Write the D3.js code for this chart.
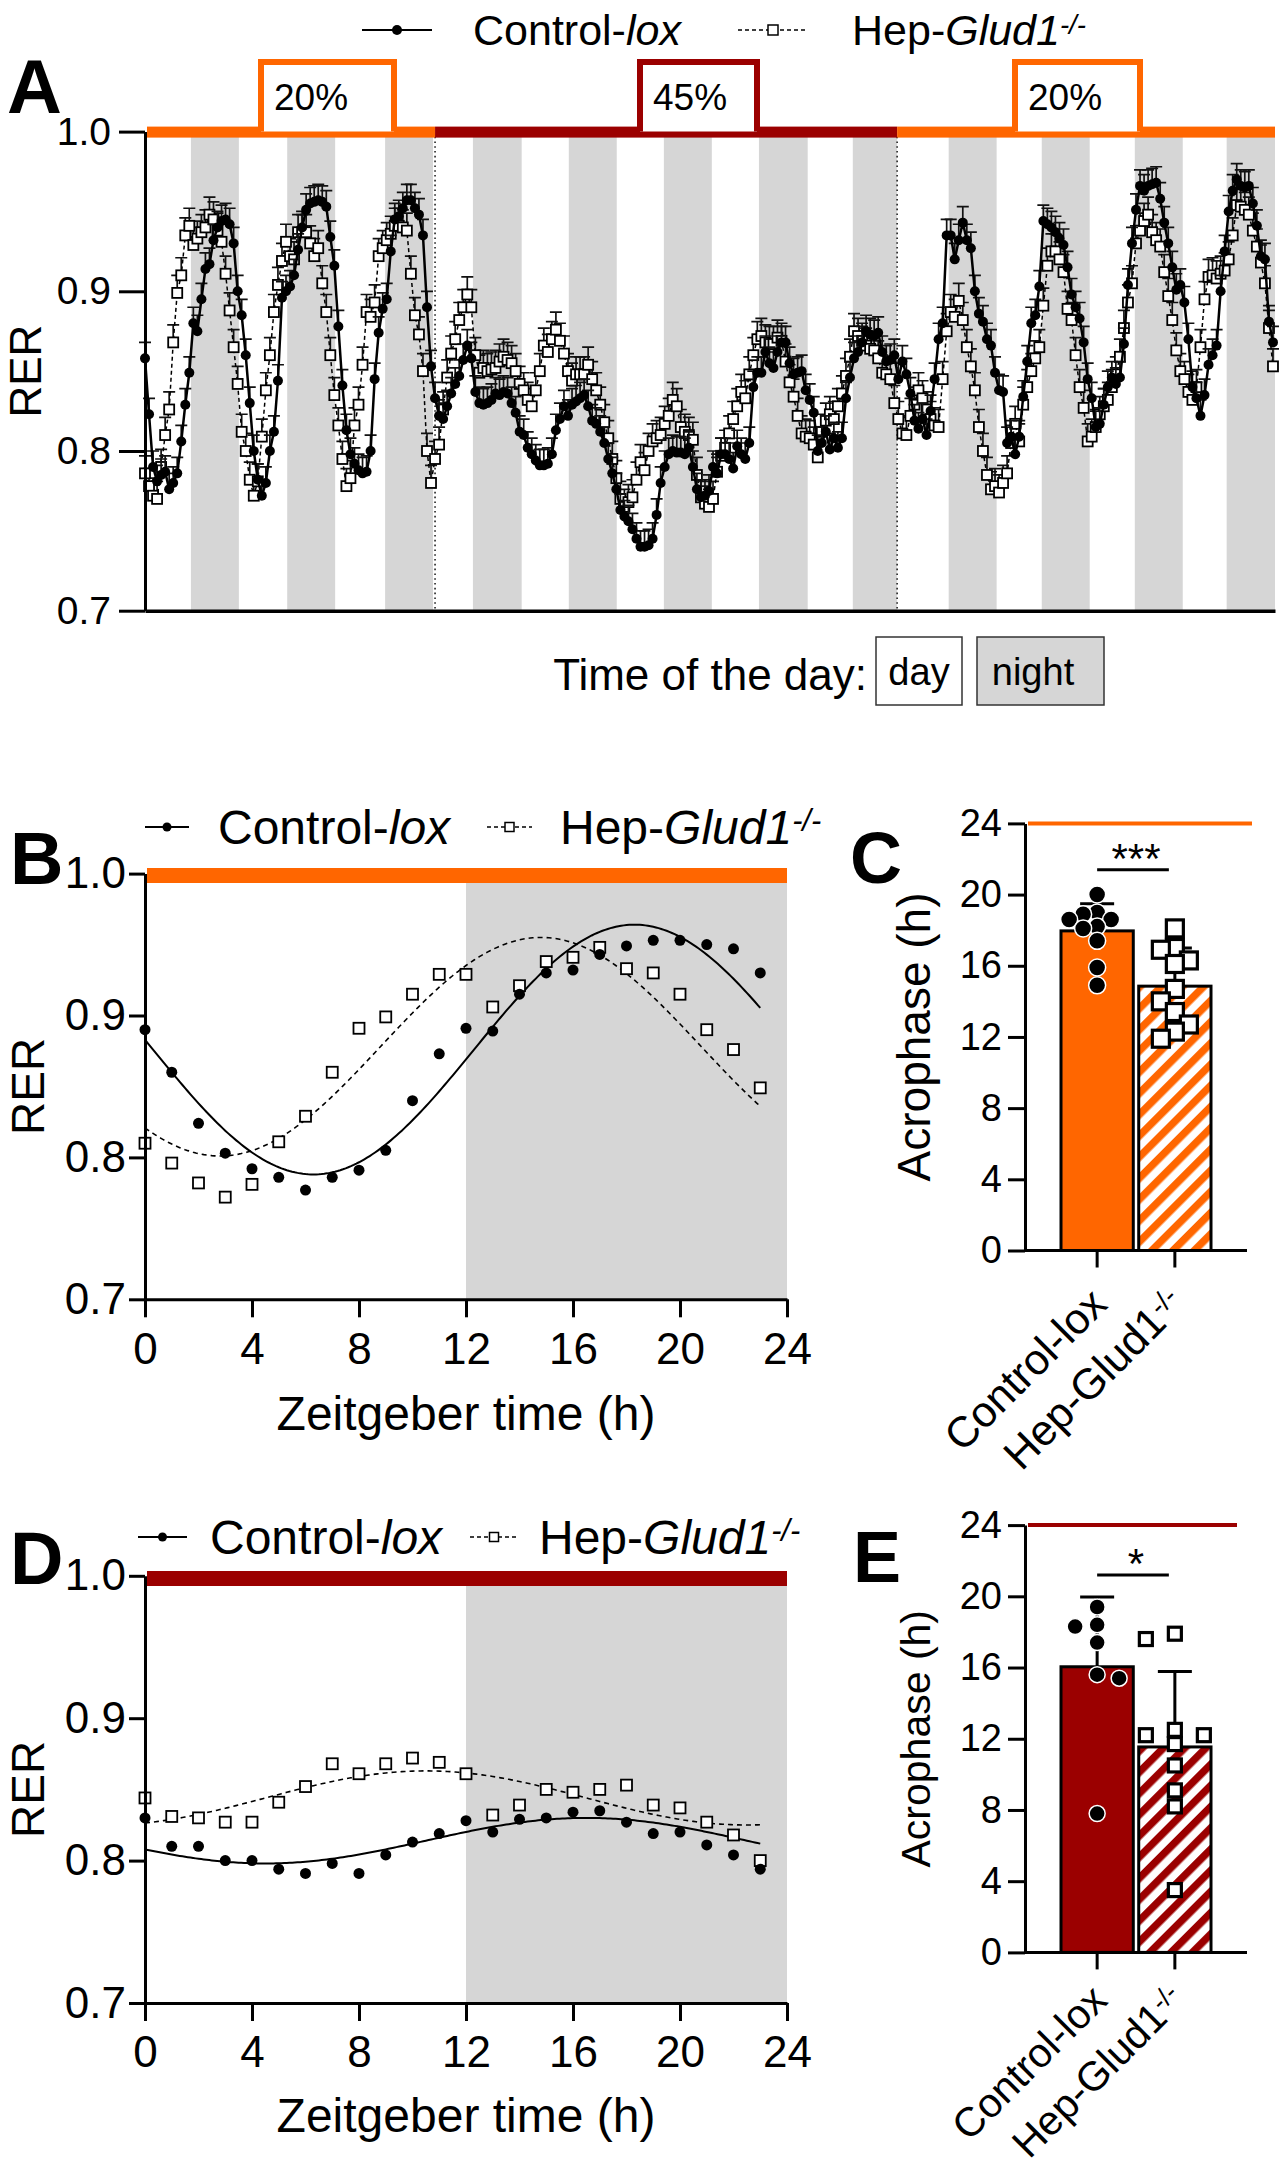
<!DOCTYPE html>
<html><head><meta charset="utf-8">
<script src="https://cdn.jsdelivr.net/npm/d3@7/dist/d3.min.js"></script>
<style>
html,body{margin:0;padding:0;background:#fff;}
svg{display:block;}
</style></head>
<body>
<svg id="chart" width="1280" height="2167" xmlns="http://www.w3.org/2000/svg"></svg>
<script>
// ================= DATA =================
// Panel A: hourly RER, three diet phases (20% / 45% / 20% protein)
const dietLabels = ["20%", "45%", "20%"];
const dietStartH = [0, 72, 186.7];
const dietEndH = [72, 186.7, 280.5];
const nightStartH = [11.4, 35.3, 59.6, 81.4, 105.2, 128.8, 152.4, 175.7, 199.5, 222.6, 245.7, 268.5];
const nightEndH   = [23.3, 47.2, 71.5, 93.5, 117.1, 140.7, 164.5, 186.7, 211.4, 234.5, 257.6, 280.5];

const ctrlA1 = [0.858,0.823,0.790,0.781,0.785,0.787,0.776,0.780,0.786,0.806,0.829,0.849,0.880,0.875,0.895,0.914,0.917,0.932,0.940,0.944,0.945,0.942,0.930,0.900,
  0.885,0.860,0.830,0.800,0.782,0.772,0.780,0.800,0.812,0.844,0.896,0.900,0.903,0.910,0.926,0.940,0.951,0.955,0.956,0.957,0.956,0.953,0.934,0.916,
  0.878,0.841,0.813,0.798,0.792,0.788,0.786,0.787,0.800,0.845,0.874,0.889,0.895,0.925,0.945,0.947,0.952,0.957,0.957,0.952,0.948,0.935,0.890,0.853];
const ctrlA2 = [0.833,0.822,0.820,0.828,0.836,0.842,0.847,0.857,0.866,0.858,0.837,0.830,0.829,0.830,0.832,0.836,0.835,0.837,0.836,0.830,0.824,0.812,0.810,0.802,
  0.798,0.794,0.791,0.791,0.792,0.798,0.813,0.820,0.828,0.822,0.829,0.831,0.833,0.835,0.828,0.819,0.817,0.812,0.805,0.795,0.786,0.776,0.763,0.759,
  0.756,0.751,0.745,0.740,0.740,0.741,0.745,0.760,0.780,0.790,0.798,0.800,0.799,0.799,0.798,0.802,0.790,0.776,0.771,0.772,0.775,0.790,0.786,0.798,
  0.798,0.795,0.789,0.803,0.798,0.795,0.805,0.840,0.849,0.849,0.862,0.855,0.852,0.862,0.868,0.868,0.855,0.848,0.849,0.850,0.838,0.832,0.824,0.800,
  0.805,0.812,0.801,0.808,0.802,0.808,0.833,0.846,0.858,0.862,0.868,0.875,0.873,0.872,0.874,0.862,0.856,0.857,0.860];
const ctrlA3 = [0.845,0.856,0.848,0.836,0.819,0.814,0.820,0.810,0.825,0.845,0.870,0.880,0.935,0.935,0.920,0.932,0.943,0.932,0.927,0.900,0.886,0.881,0.870,
  0.866,0.849,0.838,0.837,0.805,0.809,0.798,0.809,0.834,0.856,0.880,0.885,0.903,0.944,0.942,0.940,0.937,0.933,0.929,0.915,0.898,0.890,0.883,0.868,
  0.845,0.833,0.815,0.817,0.829,0.840,0.846,0.842,0.846,0.867,0.904,0.930,0.951,0.966,0.963,0.966,0.967,0.968,0.958,0.943,0.930,0.915,0.901,0.904,
  0.893,0.870,0.840,0.833,0.822,0.835,0.854,0.860,0.866,0.900,0.925,0.950,0.963,0.970,0.966,0.965,0.966,0.955,0.941,0.922,0.920,0.881,0.868];

const hepA1 = [0.786,0.778,0.772,0.770,0.790,0.810,0.826,0.868,0.899,0.910,0.935,0.941,0.929,0.933,0.937,0.940,0.948,0.945,0.938,0.931,0.911,0.888,0.865,0.842,
  0.812,0.800,0.782,0.772,0.781,0.809,0.838,0.860,0.887,0.904,0.919,0.931,0.922,0.920,0.937,0.937,0.937,0.930,0.922,0.927,0.905,0.887,0.860,0.835,
  0.816,0.795,0.778,0.783,0.816,0.829,0.854,0.887,0.884,0.893,0.922,0.927,0.932,0.936,0.941,0.941,0.940,0.938,0.911,0.885,0.873,0.850,0.800,0.780];
const hepA2 = [0.795,0.804,0.826,0.846,0.861,0.870,0.882,0.890,0.898,0.890,0.860,0.849,0.852,0.850,0.851,0.852,0.856,0.859,0.857,0.855,0.850,0.842,0.838,0.832,
  0.828,0.838,0.850,0.866,0.862,0.870,0.876,0.869,0.861,0.850,0.844,0.848,0.848,0.848,0.854,0.845,0.838,0.829,0.818,0.808,0.795,0.783,0.770,0.765,
  0.768,0.771,0.782,0.793,0.788,0.800,0.806,0.808,0.810,0.817,0.822,0.832,0.828,0.815,0.812,0.810,0.807,0.785,0.771,0.767,0.765,0.770,0.787,0.797,
  0.802,0.811,0.820,0.828,0.837,0.833,0.848,0.860,0.870,0.872,0.868,0.867,0.867,0.871,0.869,0.856,0.843,0.834,0.822,0.811,0.809,0.808,0.804,0.796,
  0.812,0.819,0.823,0.820,0.828,0.836,0.847,0.859,0.875,0.872,0.869,0.866,0.864,0.863,0.858,0.849,0.848,0.845,0.830];
const hepA3 = [0.820,0.811,0.810,0.822,0.829,0.838,0.833,0.826,0.820,0.816,0.815,0.845,0.875,0.887,0.884,0.894,0.882,0.865,0.853,0.838,0.815,0.800,0.785,
  0.776,0.778,0.774,0.780,0.786,0.805,0.817,0.806,0.829,0.840,0.850,0.858,0.865,0.891,0.916,0.925,0.925,0.920,0.912,0.889,0.882,0.860,0.840,0.827,
  0.806,0.809,0.815,0.823,0.828,0.832,0.840,0.848,0.859,0.877,0.893,0.905,0.930,0.938,0.944,0.948,0.937,0.932,0.928,0.912,0.897,0.882,0.863,0.850,
  0.845,0.837,0.832,0.840,0.865,0.895,0.909,0.910,0.908,0.911,0.913,0.920,0.935,0.954,0.953,0.951,0.948,0.938,0.928,0.918,0.905,0.877,0.853];
const ctrlSemA = 0.010;
const hepSemA = 0.011;

// Panel B (20% diet) and D (45% diet): mean RER per ZT hour
const ztHours = [0,1,2,3,4,5,6,7,8,9,10,11,12,13,14,15,16,17,18,19,20,21,22,23];
const ctrlB = [0.890,0.860,0.824,0.803,0.792,0.786,0.777,0.786,0.791,0.805,0.840,0.873,0.891,0.889,0.915,0.930,0.932,0.943,0.949,0.953,0.953,0.950,0.947,0.930];
const hepB  = [0.810,0.796,0.782,0.772,0.781,0.811,0.829,0.860,0.891,0.899,0.915,0.929,0.929,0.906,0.921,0.938,0.941,0.948,0.933,0.930,0.915,0.890,0.876,0.849];
const ctrlD = [0.830,0.810,0.810,0.800,0.800,0.794,0.791,0.798,0.791,0.804,0.813,0.819,0.828,0.820,0.829,0.830,0.834,0.835,0.827,0.819,0.820,0.811,0.804,0.794];
const hepD  = [0.844,0.831,0.830,0.827,0.827,0.841,0.852,0.868,0.861,0.868,0.872,0.869,0.861,0.832,0.839,0.850,0.848,0.850,0.853,0.839,0.837,0.827,0.818,0.800];
// cosinor fits [mesor, amplitude, acrophase (h)]
const fitCtrlB = [0.876, 0.088, 18.3];
const fitHepB  = [0.878, 0.077, 14.8];
const fitCtrlD = [0.814, 0.016, 16.5];
const fitHepD  = [0.844, 0.019, 10.5];

// Panel C (20% diet) and E (45% diet): acrophase per mouse (h)
const groupNames = ["Control-lox", "Hep-Glud1"];
const acroCtrlC = [20.0, 19.0, 18.9, 18.6, 18.6, 18.2, 18.1, 17.4, 15.9, 14.9];
const acroHepC  = [18.1, 17.0, 16.9, 16.3, 16.1, 14.7, 14.0, 13.4, 12.7, 12.3, 11.9];
const acroCtrlE = [19.4, 18.4, 18.3, 17.4, 15.6, 15.4, 7.8];
const acroHepE  = [17.9, 17.6, 12.5, 12.2, 12.2, 11.7, 10.5, 9.1, 8.2, 3.5];
const rerTicks = [0.7, 0.8, 0.9, 1.0];
const ztTicks = [0, 4, 8, 12, 16, 20, 24];
const acroTicks = [0, 4, 8, 12, 16, 20, 24];

// ================= STYLE =================
const FONT = '"Liberation Sans", Arial, Helvetica, sans-serif';
const ORANGE = "#ff6600";
const DARKRED = "#9b0000";
const NIGHT = "#d6d6d6";

const svg = d3.select("#chart").attr("font-family", FONT);

function rich(sel, parts) {
  parts.forEach(p => {
    const t = sel.append("tspan").text(p.t);
    if (p.i) t.attr("font-style", "italic");
    if (p.sup) t.attr("dy", "-0.42em").attr("font-size", "0.64em");
  });
}
const ctrlRich = [{t: "Control-"}, {t: "lox", i: true}];
const hepRich = [{t: "Hep-"}, {t: "Glud1", i: true}, {t: "-/-", sup: true, i: true}];
const ctrlPlain = [{t: "Control-lox"}];
const hepPlain = [{t: "Hep-Glud1"}, {t: "-/-", sup: true}];

function panelLabel(txt, x, y, fs) {
  svg.append("text").attr("x", x).attr("y", y).attr("font-size", fs).attr("font-weight", "bold").text(txt);
}

function legend(cfg) {
  const g = svg.append("g");
  const y = cfg.y;
  g.append("line").attr("x1", cfg.c[0]).attr("x2", cfg.c[1]).attr("y1", y).attr("y2", y)
    .attr("stroke", "#000").attr("stroke-width", 2);
  g.append("circle").attr("cx", (cfg.c[0] + cfg.c[1]) / 2).attr("cy", y).attr("r", cfg.r).attr("fill", "#000");
  g.append("text").attr("x", cfg.c[2]).attr("y", y + cfg.fs * 0.36).attr("font-size", cfg.fs).call(rich, ctrlRich);
  g.append("line").attr("x1", cfg.h[0]).attr("x2", cfg.h[1]).attr("y1", y).attr("y2", y)
    .attr("stroke", "#000").attr("stroke-width", 1.5).attr("stroke-dasharray", "4,3");
  const s = cfg.sq;
  g.append("rect").attr("x", (cfg.h[0] + cfg.h[1]) / 2 - s / 2).attr("y", y - s / 2).attr("width", s).attr("height", s)
    .attr("fill", "#fff").attr("stroke", "#000").attr("stroke-width", 1.5);
  g.append("text").attr("x", cfg.h[2]).attr("y", y + cfg.fs * 0.36).attr("font-size", cfg.fs).call(rich, hepRich);
}

function styleAxis(g, fs, w) {
  g.attr("font-size", fs).attr("font-family", FONT);
  g.selectAll("path.domain").attr("stroke-width", w).attr("stroke", "#000");
  g.selectAll(".tick line").attr("stroke-width", w).attr("stroke", "#000");
  g.selectAll(".tick text").attr("fill", "#000");
}

// ================= PANEL A =================
(function () {
  const xA = d3.scaleLinear().domain([0, 280.5]).range([145, 1275]);
  const yA = d3.scaleLinear().domain([0.7, 1.0]).range([610.7, 131.6]);
  const g = svg.append("g");

  g.selectAll("rect.night").data(d3.zip(nightStartH, nightEndH)).join("rect")
    .attr("x", d => xA(d[0])).attr("width", d => xA(d[1]) - xA(d[0]))
    .attr("y", yA(1.0) + 5).attr("height", yA(0.7) - yA(1.0) - 5).attr("fill", NIGHT);

  g.selectAll("line.sw").data(dietStartH.slice(1)).join("line")
    .attr("x1", d => xA(d)).attr("x2", d => xA(d)).attr("y1", yA(1.0) + 5).attr("y2", yA(0.7))
    .attr("stroke", "#222").attr("stroke-width", 1.6).attr("stroke-dasharray", "1.6,3.2");

  function series(vals, sem, kind) {
    const data = vals.map((v, i) => [i, v]);
    const s = g.append("g");
    s.selectAll("path.err").data(data).join("path")
      .attr("d", d => {
        const x = xA(d[0]), y0 = yA(d[1]), y1 = yA(d[1] + sem);
        return `M${x},${y0}V${y1}M${x - 6},${y1}H${x + 6}`;
      })
      .attr("fill", "none").attr("stroke", "#111").attr("stroke-width", 1.7);
    s.append("path").datum(data)
      .attr("d", d3.line().x(d => xA(d[0])).y(d => yA(d[1])))
      .attr("fill", "none").attr("stroke", "#000")
      .attr("stroke-width", kind === "ctrl" ? 2.5 : 1.5)
      .attr("stroke-dasharray", kind === "ctrl" ? null : "4,3");
    if (kind === "ctrl") {
      s.selectAll("circle").data(data).join("circle")
        .attr("cx", d => xA(d[0])).attr("cy", d => yA(d[1])).attr("r", 5).attr("fill", "#000");
    } else {
      s.selectAll("rect").data(data).join("rect")
        .attr("x", d => xA(d[0]) - 5).attr("y", d => yA(d[1]) - 5).attr("width", 10).attr("height", 10)
        .attr("fill", "#fff").attr("stroke", "#000").attr("stroke-width", 1.8);
    }
  }
  series(hepA1.concat(hepA2, hepA3), hepSemA, "hep");
  series(ctrlA1.concat(ctrlA2, ctrlA3), ctrlSemA, "ctrl");

  // axes
  const ay = g.append("g").attr("transform", `translate(${xA(0)},0)`)
    .call(d3.axisLeft(yA).tickValues(rerTicks).tickFormat(d3.format(".1f")).tickSize(26).tickSizeOuter(0).tickPadding(8));
  styleAxis(ay, 39, 3);
  const ax = g.append("g").attr("transform", `translate(0,${yA(0.7)})`)
    .call(d3.axisBottom(xA).tickValues([]).tickSizeOuter(0));
  styleAxis(ax, 39, 3.5);

  // diet bar + boxes
  const dietColors = [ORANGE, DARKRED, ORANGE];
  const boxX = [258, 637, 1012], boxW = [139, 123, 131];
  dietLabels.forEach((lab, i) => {
    const x0 = xA(dietStartH[i]) + (i === 0 ? 2 : 0);
    g.append("rect").attr("x", x0).attr("width", xA(dietEndH[i]) - x0)
      .attr("y", yA(1.0) - 5).attr("height", 11).attr("fill", dietColors[i]);
    g.append("path")
      .attr("d", `M${boxX[i] + 3},${yA(1.0)}V62H${boxX[i] + boxW[i] - 3}V${yA(1.0)}`)
      .attr("fill", "#fff").attr("stroke", dietColors[i]).attr("stroke-width", 6);
    g.append("text").attr("x", boxX[i] + 16).attr("y", 110).attr("font-size", 37).text(lab);
  });

  // y label
  g.append("text").attr("transform", `translate(41,${(yA(0.7) + yA(1.0)) / 2}) rotate(-90)`)
    .attr("text-anchor", "middle").attr("font-size", 44).text("RER");

  panelLabel("A", 7, 113, 76);
  legend({y: 30, fs: 43, r: 5, sq: 10, c: [362, 432, 473], h: [738, 808, 852]});

  // time-of-day legend
  g.append("text").attr("x", 867).attr("y", 690).attr("text-anchor", "end").attr("font-size", 44).text("Time of the day:");
  g.append("rect").attr("x", 876).attr("y", 637).attr("width", 86).attr("height", 68)
    .attr("fill", "#fff").attr("stroke", "#333").attr("stroke-width", 1.5);
  g.append("text").attr("x", 919).attr("y", 685).attr("text-anchor", "middle").attr("font-size", 38).text("day");
  g.append("rect").attr("x", 977).attr("y", 637).attr("width", 127).attr("height", 68)
    .attr("fill", NIGHT).attr("stroke", "#333").attr("stroke-width", 1.5);
  g.append("text").attr("x", 1033).attr("y", 685).attr("text-anchor", "middle").attr("font-size", 38).text("night");
})();

// ================= PANELS B & D =================
function drawZT(cfg) {
  const x = d3.scaleLinear().domain([0, 24]).range([145, 787]);
  const y = d3.scaleLinear().domain([0.7, 1.0]).range([cfg.y0, cfg.y1]);
  const g = svg.append("g");
  g.append("rect").attr("x", x(12)).attr("width", x(24) - x(12)).attr("y", cfg.barBottom)
    .attr("height", y(0.7) - cfg.barBottom).attr("fill", NIGHT);
  g.append("rect").attr("x", x(0) + 2).attr("width", x(24) - x(0) - 2).attr("y", cfg.barTop)
    .attr("height", cfg.barBottom - cfg.barTop).attr("fill", cfg.color);

  const fitHours = d3.range(0, 23.001, 0.1);
  const cos = p => fitHours.map(h => [h, p[0] + p[1] * Math.cos(2 * Math.PI * (h - p[2]) / 24)]);
  const line = d3.line().x(d => x(d[0])).y(d => y(d[1]));
  g.append("path").attr("d", line(cos(cfg.fitHep))).attr("fill", "none").attr("stroke", "#000")
    .attr("stroke-width", 1.6).attr("stroke-dasharray", "5,4");
  g.append("path").attr("d", line(cos(cfg.fitCtrl))).attr("fill", "none").attr("stroke", "#000")
    .attr("stroke-width", 2);

  g.selectAll("rect.hp").data(cfg.hep).join("rect")
    .attr("x", (d, i) => x(ztHours[i]) - 5.5).attr("y", d => y(d) - 5.5).attr("width", 11).attr("height", 11)
    .attr("fill", "#fff").attr("stroke", "#000").attr("stroke-width", 1.8);
  g.selectAll("circle.cp").data(cfg.ctrl).join("circle")
    .attr("cx", (d, i) => x(ztHours[i])).attr("cy", d => y(d)).attr("r", 5.5).attr("fill", "#000");

  const ay = g.append("g").attr("transform", `translate(${x(0)},0)`)
    .call(d3.axisLeft(y).tickValues(rerTicks).tickFormat(d3.format(".1f")).tickSize(16).tickSizeOuter(0).tickPadding(3));
  styleAxis(ay, 44, 3);
  const ax = g.append("g").attr("transform", `translate(0,${y(0.7)})`)
    .call(d3.axisBottom(x).tickValues(ztTicks).tickSize(18).tickSizeOuter(0).tickPadding(15));
  styleAxis(ax, 44, 3);

  g.append("text").attr("x", (x(0) + x(24)) / 2).attr("y", cfg.titleY).attr("text-anchor", "middle")
    .attr("font-size", 48).text("Zeitgeber time (h)");
  g.append("text").attr("transform", `translate(44,${(cfg.y0 + cfg.y1) / 2}) rotate(-90)`)
    .attr("text-anchor", "middle").attr("font-size", 46).text("RER");
}

drawZT({y0: 1299.3, y1: 873.6, barTop: 868, barBottom: 883, color: ORANGE,
  ctrl: ctrlB, hep: hepB, fitCtrl: fitCtrlB, fitHep: fitHepB, titleY: 1430});
panelLabel("B", 10, 884, 74);
legend({y: 827, fs: 48, r: 4.5, sq: 9, c: [145, 189, 218], h: [487, 532, 560]});

drawZT({y0: 2003, y1: 1575.8, barTop: 1571, barBottom: 1586, color: DARKRED,
  ctrl: ctrlD, hep: hepD, fitCtrl: fitCtrlD, fitHep: fitHepD, titleY: 2132});
panelLabel("D", 10, 1584, 74);
legend({y: 1537, fs: 48, r: 4.5, sq: 9, c: [138, 187, 210], h: [470, 518, 539]});

// ================= PANELS C & E =================
// simple scatter spread: points that would overlap vertically are moved sideways
function swarm(values, y, step, sep) {
  const order = values.map((v, i) => ({v, i})).sort((a, b) => b.v - a.v);
  const placed = [], out = values.map(() => 0);
  let sign = -1;
  order.forEach(o => {
    const py = y(o.v);
    const cands = [0, sign, -sign, 2 * sign, -2 * sign, 3 * sign, -3 * sign];
    for (const c of cands) {
      const px = c * step;
      if (placed.every(p => Math.abs(p.y - py) >= sep || Math.abs(p.x - px) >= step * 0.9)) {
        placed.push({x: px, y: py}); out[o.i] = px;
        if (c !== 0) sign = -sign;
        return;
      }
    }
  });
  return out;
}

function drawAcro(cfg) {
  const y = d3.scaleLinear().domain([0, 24]).range([cfg.yZero, cfg.yTop]);
  const x = d3.scaleBand().domain(groupNames).range([1061, 1211]).paddingInner(0.07);
  const g = svg.append("g");
  const pid = "hatch" + cfg.id;
  const pat = svg.append("defs").append("pattern").attr("id", pid).attr("patternUnits", "userSpaceOnUse")
    .attr("width", 15).attr("height", 15).attr("patternTransform", "rotate(45)");
  pat.append("rect").attr("width", 15).attr("height", 15).attr("fill", "#fff");
  pat.append("rect").attr("width", 7.5).attr("height", 15).attr("fill", cfg.color);

  g.append("line").attr("x1", 1028).attr("x2", cfg.lineEnd).attr("y1", y(24)).attr("y2", y(24))
    .attr("stroke", cfg.color).attr("stroke-width", 4);

  const groups = [{name: groupNames[0], vals: cfg.ctrl}, {name: groupNames[1], vals: cfg.hep}];
  groups.forEach(d => { d.mean = d3.mean(d.vals); d.sd = d3.deviation(d.vals); d.cx = x(d.name) + x.bandwidth() / 2; });

  g.selectAll("rect.bar").data(groups).join("rect")
    .attr("x", d => x(d.name)).attr("width", x.bandwidth())
    .attr("y", d => y(d.mean)).attr("height", d => y(0) - y(d.mean))
    .attr("fill", (d, i) => i === 0 ? cfg.color : `url(#${pid})`)
    .attr("stroke", "#000").attr("stroke-width", 3);

  g.selectAll("path.err").data(groups).join("path")
    .attr("d", d => `M${d.cx},${y(d.mean)}V${y(d.mean + d.sd)}M${d.cx - 17},${y(d.mean + d.sd)}H${d.cx + 17}`)
    .attr("stroke", "#000").attr("stroke-width", 3).attr("fill", "none");

  const offC = swarm(cfg.ctrl, y, cfg.stepC, cfg.sepC);
  g.selectAll("circle.pt").data(cfg.ctrl).join("circle")
    .attr("cx", (d, i) => groups[0].cx + offC[i]).attr("cy", d => y(d)).attr("r", cfg.r)
    .attr("fill", "#000").attr("stroke", "#fff").attr("stroke-width", 1.5);
  const offH = swarm(cfg.hep, y, cfg.stepH, cfg.sepH);
  g.selectAll("rect.pt").data(cfg.hep).join("rect")
    .attr("x", (d, i) => groups[1].cx + offH[i] - cfg.sq / 2).attr("y", d => y(d) - cfg.sq / 2)
    .attr("width", cfg.sq).attr("height", cfg.sq)
    .attr("fill", "#fff").attr("stroke", "#000").attr("stroke-width", 3.2);

  const ay = g.append("g").attr("transform", "translate(1025,0)")
    .call(d3.axisLeft(y).tickValues(acroTicks).tickSize(17).tickSizeOuter(0).tickPadding(6));
  styleAxis(ay, 38, 3);
  g.append("line").attr("x1", 1025).attr("x2", 1247).attr("y1", y(0)).attr("y2", y(0))
    .attr("stroke", "#000").attr("stroke-width", 3);
  const ax = g.append("g").attr("transform", `translate(0,${y(0)})`)
    .call(d3.axisBottom(x).tickSize(17).tickFormat(() => ""));
  ax.select(".domain").remove();
  styleAxis(ax, 38, 3);

  // rotated category labels
  [ctrlPlain, hepPlain].forEach((parts, i) => {
    g.append("text").attr("transform", `translate(${groups[i].cx + 12},${y(0) + cfg.labDy}) rotate(-45)`)
      .attr("text-anchor", "end").attr("font-size", cfg.labFs).call(rich, parts);
  });

  // significance
  g.append("line").attr("x1", groups[0].cx).attr("x2", groups[1].cx - 6).attr("y1", y(cfg.sigAt)).attr("y2", y(cfg.sigAt))
    .attr("stroke", "#000").attr("stroke-width", 3);
  g.append("text").attr("x", (groups[0].cx + groups[1].cx) / 2).attr("y", y(cfg.sigAt) + 3)
    .attr("text-anchor", "middle").attr("font-size", 42).text(cfg.sig);

  g.append("text").attr("transform", `translate(930,${(cfg.yZero + cfg.yTop) / 2}) rotate(-90)`)
    .attr("text-anchor", "middle").attr("font-size", cfg.titleFs).text("Acrophase (h)");
}

drawAcro({id: "C", yZero: 1250.5, yTop: 823.4, color: ORANGE, lineEnd: 1252, r: 8.5,
  ctrl: acroCtrlC, hep: acroHepC, stepC: 14, sepC: 12, stepH: 14, sepH: 13, sq: 17,
  sig: "***", sigAt: 21.4, titleFs: 46, labDy: 56, labFs: 43});
panelLabel("C", 850, 883, 72);

drawAcro({id: "E", yZero: 1952.4, yTop: 1525.1, color: DARKRED, lineEnd: 1237, r: 8,
  ctrl: acroCtrlE, hep: acroHepE, stepC: 22, sepC: 16, stepH: 29, sepH: 13, sq: 13,
  sig: "*", sigAt: 21.2, titleFs: 41, labDy: 50, labFs: 41});
panelLabel("E", 853, 1582, 72);
</script>
</body></html>
